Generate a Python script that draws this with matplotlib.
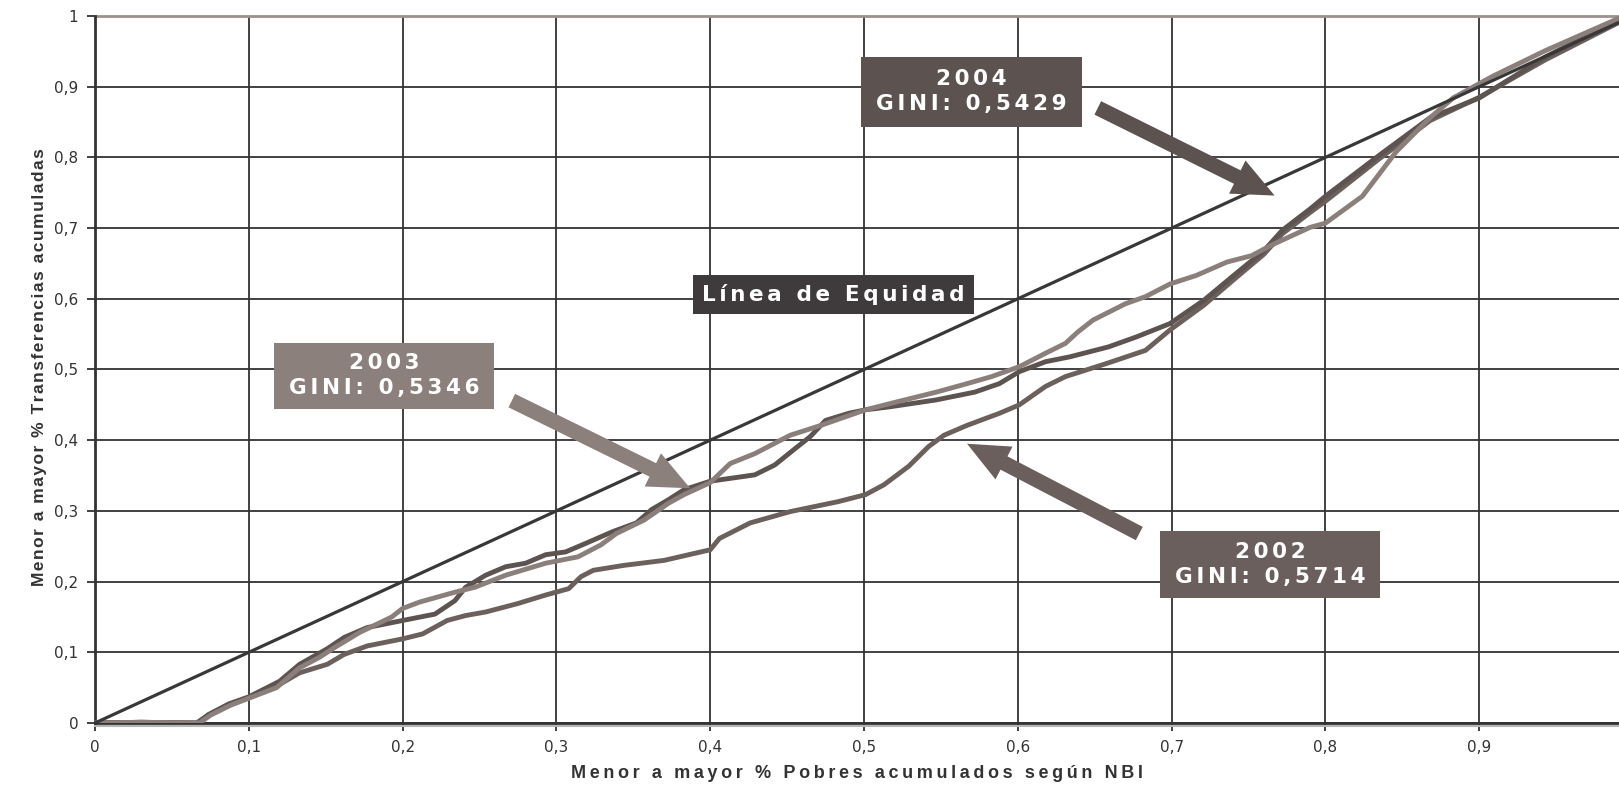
import matplotlib
matplotlib.use('Agg')
import matplotlib.pyplot as plt
from matplotlib.patches import Rectangle, FancyArrowPatch, ArrowStyle
from matplotlib.ticker import MultipleLocator, FuncFormatter
import matplotlib.transforms as mtransforms

# ---------------- data ----------------
x_2002 = [0, 0.03, 0.066, 0.074, 0.087, 0.1, 0.118, 0.133, 0.151, 0.162, 0.177, 0.2, 0.213,
          0.229, 0.241, 0.254, 0.275, 0.293, 0.308, 0.316, 0.324, 0.344, 0.370, 0.4, 0.406,
          0.426, 0.452, 0.483, 0.501, 0.513, 0.529, 0.542, 0.552, 0.567, 0.588, 0.601, 0.618,
          0.631, 0.657, 0.683, 0.699, 0.721, 0.742, 0.760, 0.772, 0.790, 0.8, 0.835, 0.868,
          0.9, 0.943, 0.99]
y_2002 = [0, 0.001, 0, 0.012, 0.026, 0.036, 0.052, 0.071, 0.083, 0.097, 0.109, 0.119, 0.126,
          0.145, 0.152, 0.157, 0.169, 0.181, 0.190, 0.207, 0.216, 0.223, 0.230, 0.245, 0.261,
          0.283, 0.299, 0.313, 0.323, 0.337, 0.363, 0.391, 0.407, 0.421, 0.438, 0.450, 0.476,
          0.490, 0.508, 0.527, 0.556, 0.591, 0.630, 0.663, 0.692, 0.722, 0.738, 0.798, 0.852,
          0.885, 0.938, 0.990]

x_2003 = [0, 0.03, 0.068, 0.075, 0.088, 0.1, 0.118, 0.133, 0.146, 0.156, 0.172, 0.193, 0.2,
          0.211, 0.234, 0.247, 0.267, 0.293, 0.314, 0.329, 0.339, 0.357, 0.373, 0.383, 0.4,
          0.413, 0.429, 0.452, 0.472, 0.501, 0.521, 0.547, 0.567, 0.583, 0.601, 0.618, 0.631,
          0.639, 0.649, 0.670, 0.683, 0.699, 0.716, 0.736, 0.752, 0.765, 0.790, 0.8, 0.824,
          0.846, 0.868, 0.883, 0.909, 0.943, 0.99]
y_2003 = [0, 0.001, 0, 0.011, 0.025, 0.035, 0.050, 0.078, 0.093, 0.107, 0.128, 0.150, 0.162,
          0.171, 0.185, 0.192, 0.209, 0.226, 0.235, 0.252, 0.268, 0.287, 0.311, 0.323, 0.340,
          0.367, 0.381, 0.407, 0.421, 0.443, 0.454, 0.468, 0.480, 0.490, 0.504, 0.523, 0.537,
          0.553, 0.570, 0.593, 0.603, 0.621, 0.633, 0.652, 0.661, 0.676, 0.701, 0.707, 0.745,
          0.808, 0.856, 0.884, 0.915, 0.951, 0.996]

x_2004 = [0, 0.03, 0.067, 0.074, 0.087, 0.1, 0.12, 0.133, 0.151, 0.162, 0.177, 0.2, 0.221,
          0.234, 0.241, 0.254, 0.267, 0.280, 0.293, 0.306, 0.319, 0.337, 0.352, 0.362, 0.373,
          0.383, 0.4, 0.413, 0.429, 0.442, 0.454, 0.465, 0.475, 0.490, 0.501, 0.516, 0.547,
          0.572, 0.588, 0.601, 0.618, 0.634, 0.659, 0.677, 0.699, 0.721, 0.742, 0.760, 0.772,
          0.790, 0.8, 0.835, 0.868, 0.9, 0.943, 0.99]
y_2004 = [0, 0.001, 0, 0.012, 0.027, 0.037, 0.059, 0.083, 0.105, 0.121, 0.135, 0.145, 0.154,
          0.173, 0.192, 0.209, 0.221, 0.226, 0.238, 0.242, 0.254, 0.271, 0.283, 0.302, 0.316,
          0.330, 0.342, 0.346, 0.351, 0.365, 0.386, 0.405, 0.428, 0.438, 0.443, 0.447, 0.457,
          0.468, 0.480, 0.497, 0.511, 0.518, 0.532, 0.546, 0.565, 0.598, 0.636, 0.668, 0.697,
          0.727, 0.745, 0.803, 0.856, 0.884, 0.942, 0.994]

equity_x = [0, 1]
equity_y = [0, 1]

years = ['2002', '2003', '2004']
gini_values = ['0,5714', '0,5346', '0,5429']

x_label = 'Menor a mayor % Pobres acumulados según NBI'
y_label = 'Menor a mayor % Transferencias acumuladas'
equity_label = 'Línea de Equidad'

# ---------------- styling ----------------
col_2002 = '#6c605d'
col_2003 = '#8b7f7b'
col_2004 = '#5d5350'
box_2002 = '#6b5f5d'
box_2003 = '#8c807c'
box_2004 = '#5c5350'
box_eq = '#3f3b3c'
grid_col = '#333333'

W, H = 1619, 787
fig = plt.figure(figsize=(W / 100, H / 100), dpi=100)
fig.patch.set_facecolor('white')

x0_px, y0_px, ytop_px, unit_x = 95, 723, 16, 1538
ax = fig.add_axes([x0_px / W, (H - y0_px) / H, 1 - x0_px / W, (y0_px - ytop_px) / H])
ax.set_xlim(0, (W - x0_px) / unit_x)
ax.set_ylim(0, 1)


def fmt(v, pos):
    if abs(v) < 1e-9:
        return '0'
    if abs(v - 1) < 1e-9:
        return '1'
    return ('%.1f' % v).replace('.', ',')


ax.xaxis.set_major_locator(MultipleLocator(0.1))
ax.yaxis.set_major_locator(MultipleLocator(0.1))
ax.xaxis.set_major_formatter(FuncFormatter(fmt))
ax.yaxis.set_major_formatter(FuncFormatter(fmt))
ax.grid(True, color=grid_col, lw=1.3)
ax.set_axisbelow(True)
ax.tick_params(direction='out', length=6, width=1.3, color=grid_col,
               labelsize=11, labelcolor='#333333', pad=6)
for s in ['top', 'right']:
    ax.spines[s].set_visible(False)
for s in ['left', 'bottom']:
    ax.spines[s].set_color(grid_col)
    ax.spines[s].set_linewidth(2)

# top border line (y = 1) in light brown-grey
ax.axhline(1, color='#9e918d', lw=2, clip_on=False, zorder=2)
# light shadow below the x axis
shadow = mtransforms.offset_copy(ax.transAxes, fig=fig, x=0, y=-2.5, units='dots')
ax.plot([0, 1], [0, 0], color='#b5b5b5', lw=1.5, transform=shadow, clip_on=False, zorder=1)

# curves
ax.plot(equity_x, equity_y, color='#383838', lw=2.3, zorder=3.5)
ax.plot(x_2002, y_2002, color=col_2002, lw=3.5, zorder=3, solid_joinstyle='round')
ax.plot(x_2003, y_2003, color=col_2003, lw=3.5, zorder=3.2, solid_joinstyle='round')
ax.plot(x_2004, y_2004, color=col_2004, lw=3.5, zorder=3.1, solid_joinstyle='round')

label_font = ['Liberation Sans', 'DejaVu Sans']
box_font = ['DejaVu Sans']


def track(s, sp):
    return sp.join(s)


ax.set_xlabel(track(x_label, '\u2009'), fontsize=13, fontweight='bold',
              family=label_font, color='#333333')
ax.xaxis.set_label_coords(0.5, -0.06)
ax.set_ylabel(track(y_label, '\u200a'), fontsize=12.5, fontweight='bold',
              family=label_font, color='#333333')
ax.yaxis.set_label_coords(-0.0315, 0.503)


def box(cx, cy, w, h, fc, text):
    ax.add_patch(Rectangle((cx - w / 2, cy - h / 2), w, h, facecolor=fc,
                           edgecolor='none', zorder=5))
    ax.text(cx, cy, text, ha='center', va='center', color='white', fontsize=15.5,
            fontweight='bold', family=box_font, linespacing=1.3, zorder=6)


def arrow(tail, head, fc):
    st = ArrowStyle.Simple(head_length=3.0, head_width=2.66, tail_width=1.08)
    ax.add_patch(FancyArrowPatch(posA=tail, posB=head, arrowstyle=st, mutation_scale=10,
                                 facecolor=fc, edgecolor='none', shrinkA=0, shrinkB=0,
                                 zorder=5))


sp = '\u2006'
box(0.570, 0.893, 0.144, 0.099, box_2004,
    track(years[2], sp) + '\n' + track('GINI: ' + gini_values[2], sp))
box(0.188, 0.491, 0.143, 0.094, box_2003,
    track(years[1], sp) + '\n' + track('GINI: ' + gini_values[1], sp))
box(0.764, 0.224, 0.143, 0.094, box_2002,
    track(years[0], sp) + '\n' + track('GINI: ' + gini_values[0], sp))
box(0.480, 0.606, 0.183, 0.054, box_eq, track(equity_label, sp))

arrow((0.652, 0.870), (0.767, 0.746), box_2004)
arrow((0.271, 0.456), (0.387, 0.332), box_2003)
arrow((0.679, 0.268), (0.567, 0.395), box_2002)

fig.savefig('out.png', dpi=100, facecolor='white')
